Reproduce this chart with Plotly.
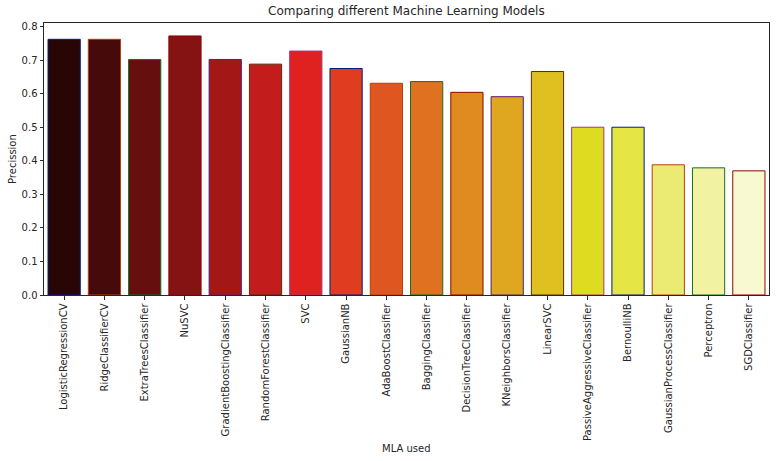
import colorsys
import plotly.graph_objects as go

models = ["LogisticRegressionCV", "RidgeClassifierCV", "ExtraTreesClassifier", "NuSVC",
          "GradientBoostingClassifier", "RandomForestClassifier", "SVC", "GaussianNB",
          "AdaBoostClassifier", "BaggingClassifier", "DecisionTreeClassifier",
          "KNeighborsClassifier", "LinearSVC", "PassiveAggressiveClassifier",
          "BernoulliNB", "GaussianProcessClassifier", "Perceptron", "SGDClassifier"]
precision = [0.762, 0.762, 0.702, 0.772, 0.702, 0.688, 0.727, 0.675, 0.631,
             0.636, 0.604, 0.591, 0.666, 0.500, 0.500, 0.388, 0.379, 0.370]

edge_palette = ["#001c7f", "#b1400d", "#12711c", "#8c0800", "#591e71", "#592f0d", "#a23582"]


def hot(x):
    def seg(pts):
        for (x0, y0), (x1, y1) in zip(pts[:-1], pts[1:]):
            if x0 <= x <= x1:
                return y0 + (y1 - y0) * (x - x0) / (x1 - x0) if x1 > x0 else y1
        return pts[-1][1]
    r = seg([(0, 0.0416), (0.365079, 1.0), (1, 1.0)])
    g = seg([(0, 0.0), (0.365079, 0.0), (0.746032, 1.0), (1, 1.0)])
    b = seg([(0, 0.0), (0.746032, 0.0), (1, 1.0)])
    return r, g, b


def desat(rgb, p=0.75):
    h, l, s = colorsys.rgb_to_hls(*rgb)
    r, g, b = colorsys.hls_to_rgb(h, l, s * p)
    return "#%02x%02x%02x" % tuple(int(round(c * 255)) for c in (r, g, b))


n = len(models)
fills = [desat(hot((k + 1) / (n + 1))) for k in range(n)]
edges = [edge_palette[i % len(edge_palette)] for i in range(n)]

font = "DejaVu Sans"
fig = go.Figure(go.Bar(
    x=models, y=precision,
    marker=dict(color=fills, line=dict(color=edges, width=1)),
    width=0.8,
))

axis_common = dict(showline=True, linecolor="#262626", linewidth=1, mirror=True,
                   ticks="outside", ticklen=3.5, tickcolor="#262626", tickwidth=1,
                   showgrid=False, zeroline=False, automargin=False,
                   tickfont=dict(family=font, size=10, color="#262626"))

fig.update_layout(
    width=776, height=461,
    margin=dict(l=44, r=7, t=23, b=166),
    paper_bgcolor="white", plot_bgcolor="white",
    showlegend=False, hovermode=False,
    font=dict(family=font, size=10, color="#262626"),
    xaxis=dict(range=[-0.5, n - 0.5], tickangle=-90, **axis_common),
    yaxis=dict(range=[0, 0.8106], dtick=0.1, tickformat=".1f", **axis_common),
    annotations=[
        dict(text="Comparing different Machine Learning Models", xref="paper", yref="paper",
             x=0.5, y=1, yshift=3, xanchor="center", yanchor="bottom", showarrow=False,
             font=dict(family=font, size=12, color="#262626")),
        dict(text="Precission", xref="paper", yref="paper", x=0, y=0.5, xshift=-32,
             textangle=-90, xanchor="center", yanchor="middle", showarrow=False,
             font=dict(family=font, size=10, color="#262626")),
        dict(text="MLA used", xref="paper", yref="paper", x=0.5, y=0, yshift=-153,
             xanchor="center", yanchor="middle", showarrow=False,
             font=dict(family=font, size=10, color="#262626")),
    ],
)

fig.write_html("out.html", config={"displayModeBar": False, "staticPlot": True},
               post_script="document.body.style.margin='0';document.body.style.padding='0';")
